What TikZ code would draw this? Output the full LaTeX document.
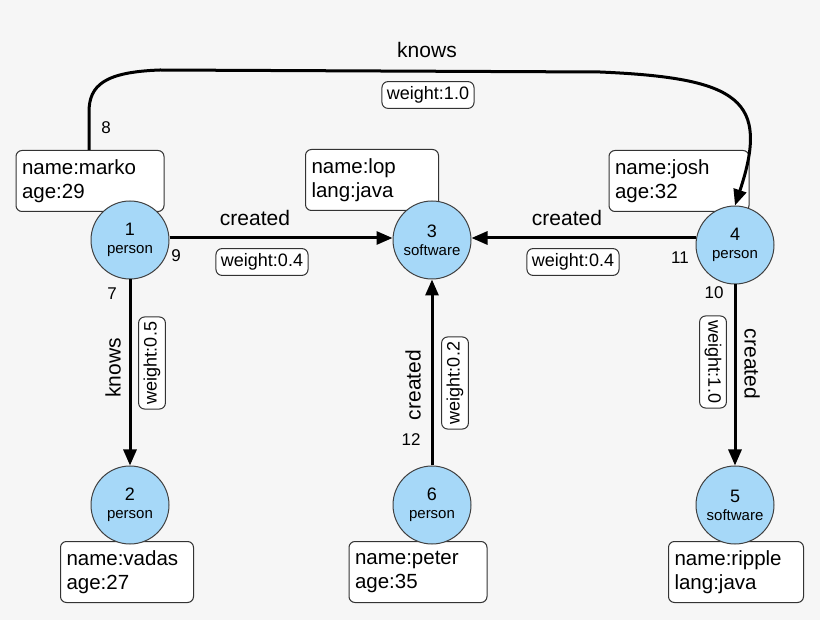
\documentclass[tikz,border=0pt]{standalone}
\usepackage{fontspec}
\setmainfont{Liberation Sans}
\usetikzlibrary{arrows.meta}
\definecolor{bg}{HTML}{F6F6F6}
\definecolor{nodeblue}{HTML}{A6D8F8}
\begin{document}
\begin{tikzpicture}[x=1pt,y=-1pt,
  v/.style={circle,draw=black!75,line width=1pt,fill=nodeblue,minimum size=78pt,inner sep=0pt,align=center,font=\fontsize{18}{20}\selectfont},
  prop/.style={draw=black!80,line width=1pt,fill=white,rounded corners=6pt,align=left,inner sep=6pt,font=\fontsize{20.5}{24}\selectfont,minimum height=61pt,text width=#1},
  wt/.style={draw=black!80,line width=1pt,fill=white,rounded corners=6pt,inner sep=5pt,font=\fontsize{18}{20}\selectfont},
  lbl/.style={font=\fontsize{21}{23}\selectfont},
  num/.style={font=\fontsize{17}{19}\selectfont},
  e/.style={-{Triangle[length=16pt,width=13pt]},line width=3pt}]
\fill[bg] (0,0) rectangle (820,620);
\useasboundingbox (0,0) rectangle (820,620);
% property boxes
\node[prop=136pt] (pm) at (90,181) {name:marko\\age:29};
\node[prop=121pt] (pl) at (372,180) {name:lop\\lang:java};
\node[prop=128pt] (pj) at (679,181) {name:josh\\age:32};
\node[prop=121pt] (pv) at (127,572) {name:vadas\\age:27};
\node[prop=126pt] (pp) at (418,572) {name:peter\\age:35};
\node[prop=123pt] (pr) at (736,572) {name:ripple\\lang:java};
% vertices
\node[v] (n1) at (130,240) {1\\[-2pt]{\fontsize{15}{17}\selectfont person}};
\node[v] (n3) at (432,240) {3\\[-2pt]{\fontsize{15}{17}\selectfont software}};
\node[v] (n4) at (735,245) {4\\[-2pt]{\fontsize{15}{17}\selectfont person}};
\node[v] (n2) at (130,505) {2\\[-2pt]{\fontsize{15}{17}\selectfont person}};
\node[v] (n6) at (432,505) {6\\[-2pt]{\fontsize{15}{17}\selectfont person}};
\node[v] (n5) at (735,505) {5\\[-2pt]{\fontsize{15}{17}\selectfont software}};
% edges
\draw[e] (n1.east |- 0,238) -- (n3.west |- 0,238);
\draw[e] (n4.west |- 0,238) -- (n3.east |- 0,238);
\draw[e] (n1) -- (n2);
\draw[e] (n6) -- (n3);
\draw[e] (n4) -- (n5);
\coordinate (ks) at (89,150);
\draw[e] (ks) -- (89,112) .. controls (89,85) and (105,72) .. (160,70)
  -- (600,72) .. controls (740,78) and (770,100) .. (n4.north);
% labels
\node[lbl] (l1) at (427,50) {knows};
\node[wt] (w1) at (428,95) {weight:1.0};
\node[num] (c8) at (106,128) {8};
\node[lbl] (l2) at (255,218) {created};
\node[wt] (w2) at (262,262) {weight:0.4};
\node[num] (c9) at (176,256) {9};
\node[lbl] (l3) at (567,218) {created};
\node[wt] (w3) at (573,262) {weight:0.4};
\node[num] (c11) at (680,258) {11};
\node[num] (c7) at (112,294) {7};
\node[lbl,rotate=90] (l4) at (113,368) {knows};
\node[wt,rotate=90] (w4) at (152,363) {weight:0.5};
\node[lbl,rotate=90] (l5) at (413,385) {created};
\node[wt,rotate=90] (w5) at (455,383) {weight:0.2};
\node[num] (c12) at (411,440) {12};
\node[num] (c10) at (714,293) {10};
\node[wt,rotate=-90] (w6) at (713,362) {weight:1.0};
\node[lbl,rotate=-90] (l6) at (752,364) {created};
\end{tikzpicture}
\end{document}
